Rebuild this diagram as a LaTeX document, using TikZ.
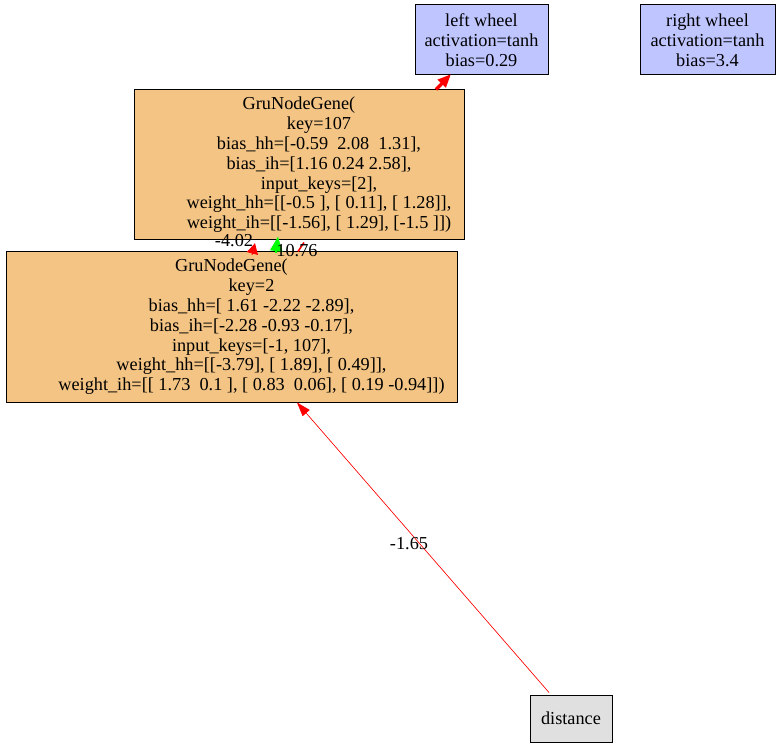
\documentclass[tikz,border=0pt]{standalone}
\usepackage{fontspec}
\setmainfont{Liberation Serif}
\usetikzlibrary{arrows.meta}
\definecolor{outfill}{RGB}{190,197,255}
\definecolor{genefill}{RGB}{243,196,132}
\definecolor{infill}{RGB}{224,224,224}
\definecolor{posgreen}{RGB}{0,255,0}
\tikzset{
  gbox/.style={draw=black, line width=0.75pt, rectangle, inner sep=2pt,
    align=center, font=\fontsize{13.7pt}{14.85pt}\selectfont},
  outbox/.style={gbox, fill=outfill},
  genebox/.style={gbox, fill=genefill},
  inbox/.style={gbox, fill=infill},
  wlabel/.style={inner sep=0pt, font=\fontsize{13.7pt}{14.85pt}\selectfont},
  negedge/.style={draw=red, -{Triangle[length=10.5pt, width=7pt]}, fill=red},
  posedge/.style={draw=posgreen, -{Triangle[length=11pt, width=8pt]}}
}
\newcommand{\ind}{\hspace*{30pt}}
\begin{document}
\begin{tikzpicture}[x=0.75pt, y=-0.75pt]
\useasboundingbox (0,0) rectangle (780,748);

% output nodes
\node[outbox, minimum width=133*0.75pt, minimum height=70*0.75pt] (lw) at (481.5,40)
  {left wheel\\activation=tanh\\bias=0.29};
\node[outbox, minimum width=135*0.75pt, minimum height=70*0.75pt] (rw) at (707.5,40)
  {right wheel\\activation=tanh\\bias=3.4};

% hidden GRU nodes
\node[genebox, minimum width=330*0.75pt, minimum height=150*0.75pt] (g107) at (299,165)
  {GruNodeGene(\\
   \ind key=107\\
   \ind bias\_hh=[-0.59~ 2.08~ 1.31],\\
   \ind bias\_ih=[1.16 0.24 2.58],\\
   \ind input\_keys=[2],\\
   \ind weight\_hh=[[-0.5 ], [ 0.11], [ 1.28]],\\
   \ind weight\_ih=[[-1.56], [ 1.29], [-1.5 ]])};
\node[genebox, minimum width=451*0.75pt, minimum height=150*0.75pt] (g2) at (231.5,327)
  {GruNodeGene(\\
   \ind key=2\\
   \ind bias\_hh=[ 1.61 -2.22 -2.89],\\
   \ind bias\_ih=[-2.28 -0.93 -0.17],\\
   \ind input\_keys=[-1, 107],\\
   \ind weight\_hh=[[-3.79], [ 1.89], [ 0.49]],\\
   \ind weight\_ih=[[ 1.73~ 0.1 ], [ 0.83~ 0.06], [ 0.19 -0.94]])};

% input node
\node[inbox, minimum width=82*0.75pt, minimum height=47*0.75pt] (dist) at (571,718.5)
  {distance};

% attachment columns for the connectors
\coordinate (c1s) at (436,0);
\coordinate (c1t) at (451,0);
\coordinate (c2s) at (252,0);
\coordinate (c2t) at (255,0);
\coordinate (c3s) at (276,0);
\coordinate (c3t) at (278,0);
\coordinate (c4s) at (304,0);
\coordinate (c4t) at (298,0);
\coordinate (c5s) at (549,0);
\coordinate (c5t) at (297,0);

% connections
\draw[negedge, line width=2.5pt, -{Triangle[length=10pt, width=8pt]}]
  (g107.north -| c1s) -- ([yshift=1pt]lw.south -| c1t);
\draw[negedge, line width=0.7pt, -{Triangle[length=8pt, width=8.5pt]}]
  ([yshift=-2.5pt]g2.north -| c2s) -- ([yshift=-2pt]g107.south -| c2t);
\draw[posedge, line width=1.7pt, -{Triangle[length=11pt, width=9pt]}]
  ([yshift=-1pt]g2.north -| c3s) -- ([yshift=3pt]g107.south -| c3t);
\draw[draw=red, line width=1.2pt]
  ([yshift=-1.5pt]g107.south -| c4s) -- (g2.north -| c4t);
\draw[negedge, line width=0.45pt] ([yshift=1.5pt]dist.north -| c5s) -- (g2.south -| c5t);

% connection weights
\node[wlabel] (w1) at (234,241) {-4.02};
\node[wlabel] (w2) at (297,251) {10.76};
\node[wlabel] (w3) at (409,544) {-1.65};
\end{tikzpicture}
\end{document}
